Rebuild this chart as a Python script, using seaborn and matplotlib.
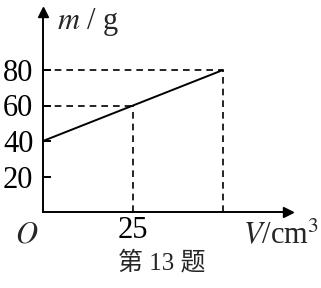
import matplotlib
matplotlib.use("Agg")
import matplotlib.pyplot as plt
import seaborn as sns
import pandas as pd

# data
volume = [0, 50]          # V / cm^3
mass = [40, 80]           # m / g
guide_x = [25, 50]
guide_y = [60, 80]
y_ticks = [20, 40, 60, 80]
x_ticks = [25]
caption = "第 13 题"

sns.set_theme(style="white")
plt.rcParams["font.family"] = ["Liberation Serif", "Noto Sans CJK SC"]
plt.rcParams["mathtext.fontset"] = "stix"

W, H = 321, 288
fig = plt.figure(figsize=(W / 100, H / 100), dpi=100)
fig.patch.set_facecolor("white")

x0, y0 = 43, 212        # origin pixel (from top)
xt, yt = 288, 12        # arrow tips
ax = fig.add_axes([x0 / W, 1 - y0 / H, (xt - x0) / W, (y0 - yt) / H])
ax.set_facecolor("none")

px_per_x = 90 / 25
px_per_y = 142 / 80
ax.set_xlim(0, (xt - x0) / px_per_x)
ax.set_ylim(0, (y0 - yt) / px_per_y)

df = pd.DataFrame({"V": volume, "m": mass})
sns.lineplot(data=df, x="V", y="m", ax=ax, color="black", lw=1.4)

for gx, gy in zip(guide_x, guide_y):
    ax.plot([0, gx], [gy, gy], color="black", lw=1.2, ls=(0, (4, 3)))
    ax.plot([gx, gx], [0, gy], color="black", lw=1.2, ls=(0, (4, 3)))

# inward tick marks on the y axis (8 px long)
tick_len = 8 / px_per_x
for yv in y_ticks:
    ax.plot([0, tick_len], [yv, yv], color="black", lw=1.4,
            solid_capstyle="butt", zorder=5)

for s in ["top", "right"]:
    ax.spines[s].set_visible(False)
for s in ["left", "bottom"]:
    ax.spines[s].set_color("black")
    ax.spines[s].set_linewidth(1.4)

ax.plot(1, 0, ">", color="black", ms=7, transform=ax.transAxes, clip_on=False)
ax.plot(0, 1, "^", color="black", ms=7, transform=ax.transAxes, clip_on=False)

ax.set_yticks(y_ticks)
ax.set_yticklabels([str(v) for v in y_ticks])
ax.set_xticks(x_ticks)
ax.set_xticklabels([str(v) for v in x_ticks])
ax.tick_params(axis="y", length=0, colors="black", labelsize=22, pad=7)
ax.tick_params(axis="x", length=0, colors="black", labelsize=22, pad=3)
ax.set_xlabel("")
ax.set_ylabel("")

def ftext(x, y, s, **kw):
    fig.text(x / W, 1 - y / H, s, **kw)

ftext(27, 235, "$O$", fontsize=22, ha="center", va="center")
ftext(57, 22, "$m$ / g", fontsize=22, ha="left", va="center")
ftext(243, 235, "$V$/cm$^3$", fontsize=22, ha="left", va="center")
ftext(162, 263, caption, fontsize=18, ha="center", va="center")

fig.savefig("out.png", dpi=100, facecolor="white")
